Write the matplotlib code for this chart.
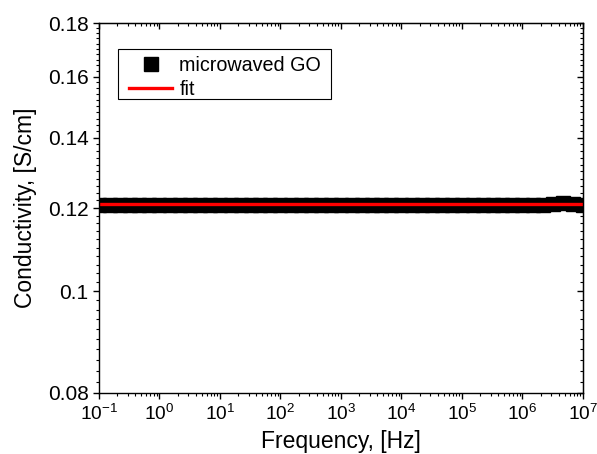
import numpy as np
import matplotlib
matplotlib.use('Agg')
import matplotlib.pyplot as plt
from matplotlib.patches import Rectangle
from matplotlib.ticker import FixedLocator, FuncFormatter, MultipleLocator, LogLocator, NullFormatter

plt.rcParams['font.family'] = ['Liberation Sans', 'DejaVu Sans']
plt.rcParams['mathtext.fontset'] = 'custom'
plt.rcParams['mathtext.rm'] = 'Liberation Sans'
plt.rcParams['mathtext.it'] = 'Liberation Sans'

# Conductivity of microwaved GO vs frequency
freq = [0.1, 0.15, 0.22, 0.32, 0.46, 0.68,
        1, 1.5, 2.2, 3.2, 4.6, 6.8,
        10, 15, 22, 32, 46, 68,
        100, 150, 220, 320, 460, 680,
        1e3, 1.5e3, 2.2e3, 3.2e3, 4.6e3, 6.8e3,
        1e4, 1.5e4, 2.2e4, 3.2e4, 4.6e4, 6.8e4,
        1e5, 1.5e5, 2.2e5, 3.2e5, 4.6e5, 6.8e5,
        1e6, 1.5e6, 2.2e6, 3.2e6, 4.6e6, 6.8e6,
        1e7]
sigma = [0.1209, 0.1209, 0.1209, 0.1209, 0.1209, 0.1209,
         0.1209, 0.1209, 0.1209, 0.1209, 0.1209, 0.1209,
         0.1209, 0.1209, 0.1209, 0.1209, 0.1209, 0.1209,
         0.1209, 0.1209, 0.1209, 0.1209, 0.1209, 0.1209,
         0.1207, 0.1207, 0.1207, 0.1207, 0.1207, 0.1207,
         0.1207, 0.1207, 0.1207, 0.1208, 0.1209, 0.1209,
         0.1209, 0.1209, 0.1209, 0.1209, 0.1209, 0.1209,
         0.1209, 0.1209, 0.1209, 0.1210, 0.1213, 0.1210,
         0.1209]

fit_value = 0.12093
fit_range = [0.1, 1e7]

y_ticks = [0.08, 0.1, 0.12, 0.14, 0.16, 0.18]

fig = plt.figure(figsize=(5.97, 4.54), dpi=100)
ax = fig.add_axes([0.1658, 0.1344, 0.8107, 0.8149])

ax.plot(freq, sigma, 's', color='black', markersize=9.4, label='microwaved GO')
ax.plot(fit_range, [fit_value, fit_value], '-', color='red', linewidth=2.4, label='fit')

ax.set_xscale('log')
ax.set_yscale('log')
ax.set_xlim(0.1, 1e7)
ax.set_ylim(0.08, 0.18)

ax.xaxis.set_major_locator(LogLocator(base=10, numticks=20))
ax.xaxis.set_minor_locator(LogLocator(base=10, subs=np.arange(2, 10), numticks=20))
ax.xaxis.set_minor_formatter(NullFormatter())
ax.xaxis.set_major_formatter(FuncFormatter(lambda v, p: r'$10^{%d}$' % round(np.log10(v))))

ax.yaxis.set_major_locator(FixedLocator(y_ticks))
ax.yaxis.set_major_formatter(FuncFormatter(lambda v, p: '%g' % v))
ax.yaxis.set_minor_locator(MultipleLocator(0.002))
ax.yaxis.set_minor_formatter(NullFormatter())

ax.tick_params(axis='both', which='major', width=1, length=4)
ax.tick_params(axis='y', which='major', labelsize=15)
ax.tick_params(axis='x', which='major', labelsize=13.8, pad=4)
ax.tick_params(axis='both', which='minor', width=0.8, length=2.2)
ax.tick_params(axis='x', which='both', direction='out', top=False)
ax.tick_params(axis='y', which='both', direction='out', right=False)
for sp in ax.spines.values():
    sp.set_linewidth(1)

# mirrored inward ticks on top and right
axt = ax.secondary_xaxis('top')
axt.xaxis.set_major_locator(LogLocator(base=10, numticks=20))
axt.xaxis.set_minor_locator(LogLocator(base=10, subs=np.arange(2, 10), numticks=20))
axt.tick_params(which='both', direction='in', labeltop=False)
axt.tick_params(which='major', length=4, width=1)
axt.tick_params(which='minor', length=2.2, width=0.8)
axt.xaxis.set_major_formatter(NullFormatter())
axt.xaxis.set_minor_formatter(NullFormatter())
axr = ax.secondary_yaxis('right')
axr.yaxis.set_major_locator(FixedLocator(y_ticks))
axr.yaxis.set_minor_locator(MultipleLocator(0.002))
axr.tick_params(which='both', direction='in', labelright=False)
axr.tick_params(which='major', length=4, width=1)
axr.tick_params(which='minor', length=2.2, width=0.8)
axr.yaxis.set_major_formatter(NullFormatter())
axr.yaxis.set_minor_formatter(NullFormatter())

ax.set_xlabel('Frequency, [Hz]', fontsize=16.5, labelpad=4)
ax.set_ylabel('Conductivity, [S/cm]', fontsize=16.5, labelpad=8)

# legend entries without frame, frame drawn as a separate box
leg = ax.legend(loc='upper left', bbox_to_anchor=(0.062, 0.911), borderaxespad=0,
                fontsize=14.2, frameon=False, handlelength=2.2, handletextpad=0.35,
                labelspacing=0.25, borderpad=0, numpoints=1)
ax.add_patch(Rectangle((0.0393, 0.7946), 0.44, 0.1351, transform=ax.transAxes,
                       fill=False, edgecolor='black', linewidth=0.8, zorder=5))

fig.savefig('out.png', dpi=100)
